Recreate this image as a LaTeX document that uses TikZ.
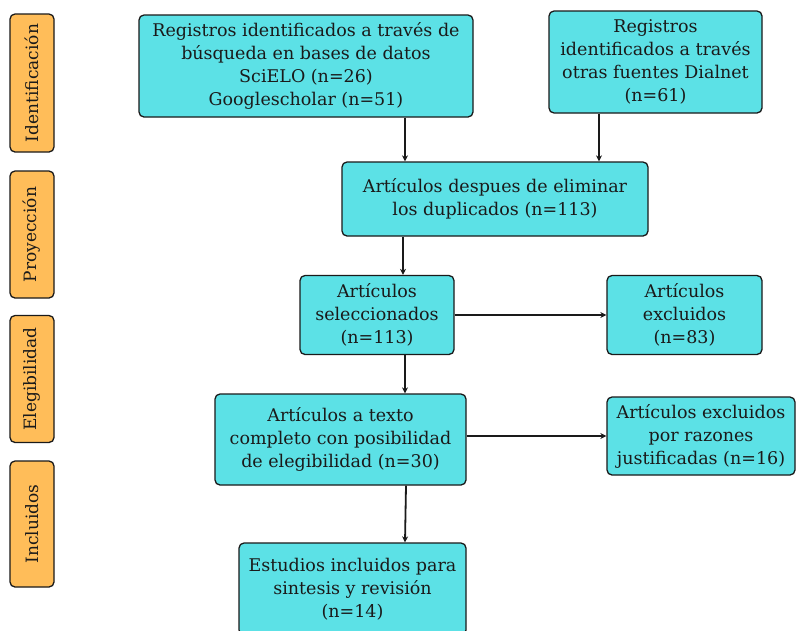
\documentclass[tikz,border=0pt]{standalone}
\usepackage{fontspec}
\setmainfont{DejaVu Serif}
\usetikzlibrary{arrows.meta}
\definecolor{boxcyan}{HTML}{5CE1E6}
\definecolor{boxorange}{HTML}{FFBD59}
\definecolor{ink}{HTML}{1A1A1A}
\tikzset{
  flowbox/.style={rectangle, rounded corners=5pt, draw=ink, line width=1.3pt, fill=boxcyan,
    align=center, inner sep=0pt, text=ink, font=\fontsize{17.5}{23}\selectfont},
  phase/.style={rectangle, rounded corners=5pt, draw=ink, line width=1.3pt, fill=boxorange,
    inner sep=0pt, minimum width=44pt},
  phasetext/.style={rotate=90, text=ink, font=\fontsize{17}{23}\selectfont},
  arr/.style={draw=ink, line width=1.8pt, -{Stealth[length=6pt,width=6pt]}}
}
\begin{document}
\begin{tikzpicture}[x=1pt,y=-1pt]
\useasboundingbox[fill=white] (0,0) rectangle (796,630);
% phase labels
\node[phase, minimum height=138pt] (p1) at (32,83) {};
\node[phasetext] (t1) at (p1.center) {Identificación};
\node[phase, minimum height=127pt] (p2) at (32,234.5) {};
\node[phasetext] (t2) at (p2.center) {Proyección};
\node[phase, minimum height=127pt] (p3) at (32,379) {};
\node[phasetext] (t3) at (p3.center) {Elegibilidad};
\node[phase, minimum height=126pt] (p4) at (32,524) {};
\node[phasetext] (t4) at (p4.center) {Incluidos};
% flow boxes
\node[flowbox, minimum width=334pt, minimum height=102pt] (b1) at (306,66)
  {Registros identificados a través de\\búsqueda en bases de datos\\SciELO (n=26)\\Googlescholar (n=51)};
\node[flowbox, minimum width=213pt, minimum height=102pt] (b2) at (655.5,62)
  {Registros\\identificados a través\\otras fuentes Dialnet\\(n=61)};
\node[flowbox, minimum width=306pt, minimum height=74pt] (b3) at (495,199)
  {Artículos despues de eliminar\\los duplicados (n=113)};
\node[flowbox, minimum width=154pt, minimum height=79pt] (b4) at (377,315)
  {Artículos\\seleccionados\\(n=113)};
\node[flowbox, minimum width=155pt, minimum height=79pt] (b5) at (684.5,315)
  {Artículos\\excluidos\\(n=83)};
\node[flowbox, minimum width=251pt, minimum height=91pt] (b6) at (340.5,439.5)
  {Artículos a texto\\completo con posibilidad\\de elegibilidad (n=30)};
\node[flowbox, minimum width=188pt, minimum height=78pt] (b7) at (701,436)
  {Artículos excluidos\\por razones\\justificadas (n=16)};
\node[flowbox, minimum width=227pt, minimum height=92pt] (b8) at (352.5,589)
  {Estudios incluidos para\\sintesis y revisión\\(n=14)};
% connectors
\draw[arr] ([xshift=99pt]b1.south) -- ([xshift=99pt]b1.south |- b3.north);
\draw[arr] ([xshift=-56.5pt]b2.south) -- ([xshift=-56.5pt]b2.south |- b3.north);
\draw[arr] ([xshift=-92pt]b3.south) -- ([xshift=-92pt]b3.south |- b4.north);
\draw[arr] (b4.east) -- (b5.west);
\draw[arr] ([xshift=28pt]b4.south) -- ([xshift=28pt]b4.south |- b6.north);
\draw[arr] (b6.east |- b7.west) -- (b7.west);
\draw[arr] ([xshift=65.5pt]b6.south) -- ([xshift=52.5pt]b8.north);
\end{tikzpicture}
\end{document}
